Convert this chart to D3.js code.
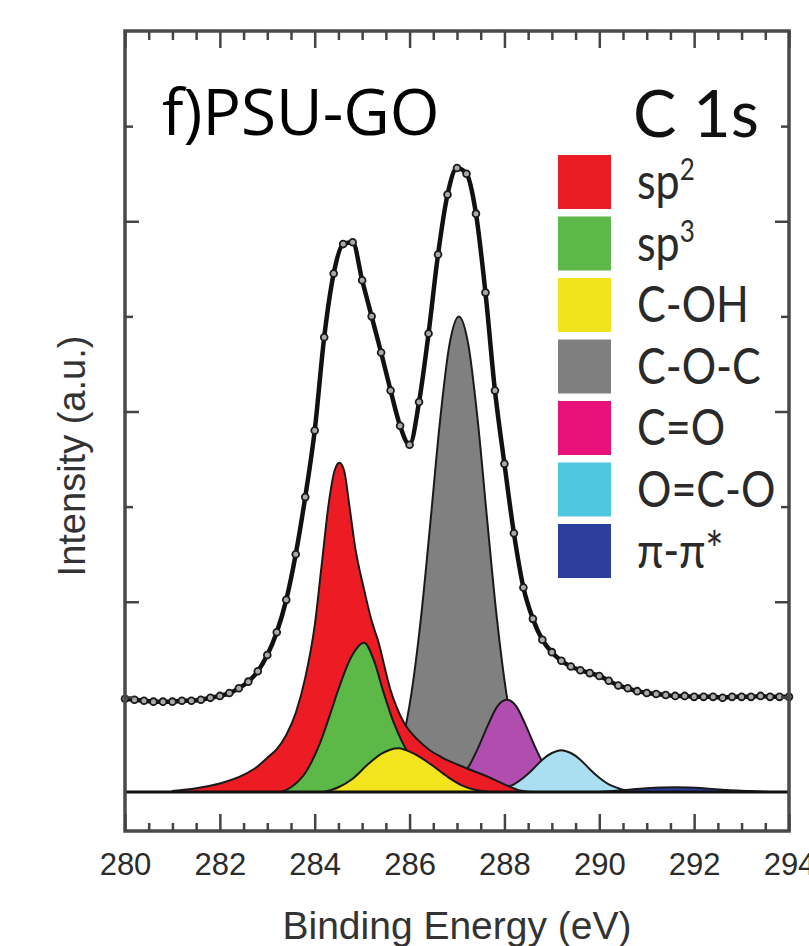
<!DOCTYPE html>
<html>
<head>
<meta charset="utf-8">
<script src="https://d3js.org/d3.v7.min.js"></script>
<style>
	body { margin: 0; background: #fff; }
	svg { display: block; }
</style>
</head>
<body>
<svg></svg>
<script>
// measured C 1s spectrum (binding energy in eV, intensity in a.u.)
var envelope = [
	[280.0, 0.98], [280.2, 0.97], [280.4, 0.96], [280.6, 0.95], [280.8, 0.95],
	[281.0, 0.95], [281.2, 0.96], [281.4, 0.96], [281.6, 0.97], [281.8, 0.99],
	[282.0, 1.01], [282.2, 1.04], [282.4, 1.09], [282.6, 1.16], [282.8, 1.27],
	[283.0, 1.44], [283.2, 1.68], [283.4, 2.02], [283.6, 2.50], [283.8, 3.10],
	[284.0, 3.80], [284.2, 4.78], [284.4, 5.45], [284.6, 5.76], [284.8, 5.78],
	[285.0, 5.38], [285.2, 5.00], [285.4, 4.62], [285.6, 4.22], [285.8, 3.85],
	[286.0, 3.65], [286.2, 4.10], [286.4, 4.82], [286.6, 5.65], [286.8, 6.28],
	[287.0, 6.56], [287.2, 6.50], [287.4, 6.08], [287.6, 5.25], [287.8, 4.22],
	[288.0, 3.45], [288.2, 2.72], [288.4, 2.15], [288.6, 1.82], [288.8, 1.60],
	[289.0, 1.47], [289.2, 1.38], [289.4, 1.32], [289.6, 1.28], [289.8, 1.25],
	[290.0, 1.22], [290.2, 1.17], [290.4, 1.12], [290.6, 1.09], [290.8, 1.06],
	[291.0, 1.04], [291.2, 1.03], [291.4, 1.02], [291.6, 1.01], [291.8, 1.01],
	[292.0, 1.00], [292.2, 1.00], [292.4, 1.00], [292.6, 0.99], [292.8, 1.00],
	[293.0, 1.00], [293.2, 1.00], [293.4, 1.01], [293.6, 1.00], [293.8, 1.00],
	[294.0, 1.00]
]

// fitted components
var sp2 = [
	[281.0, 0.01], [281.5, 0.04], [282.0, 0.09], [282.5, 0.18], [282.8, 0.27],
	[283.0, 0.36], [283.2, 0.45], [283.4, 0.60], [283.6, 0.83], [283.8, 1.20],
	[284.0, 1.75], [284.15, 2.40], [284.3, 3.05], [284.42, 3.38], [284.52, 3.46],
	[284.62, 3.38], [284.72, 3.05], [284.85, 2.58], [285.04, 2.13], [285.2, 1.80],
	[285.33, 1.60], [285.6, 1.07], [285.88, 0.73], [286.17, 0.55], [286.4, 0.45],
	[286.66, 0.37], [287.15, 0.26], [287.65, 0.16], [288.0, 0.08], [288.3, 0.02],
	[288.6, 0.0]
]
var sp3 = [
	[283.3, 0.0], [283.5, 0.05], [283.8, 0.20], [284.1, 0.50], [284.3, 0.78],
	[284.5, 1.08], [284.77, 1.42], [285.04, 1.57], [285.25, 1.38], [285.45, 1.05],
	[285.65, 0.75], [285.82, 0.55], [286.1, 0.30], [286.4, 0.12], [286.7, 0.04],
	[287.0, 0.0]
]
var cOH = [
	[284.2, 0.0], [284.5, 0.05], [284.8, 0.14], [285.1, 0.28], [285.4, 0.40],
	[285.76, 0.46], [286.1, 0.40], [286.45, 0.29], [286.8, 0.16], [287.1, 0.07],
	[287.4, 0.02], [287.7, 0.0]
]
var cOC = [
	[285.04, 0.01], [285.24, 0.03], [285.44, 0.09], [285.64, 0.23], [285.84, 0.52],
	[286.04, 1.04], [286.24, 1.83], [286.44, 2.84], [286.64, 3.89], [286.84, 4.70],
	[287.04, 5.00], [287.24, 4.70], [287.44, 3.89], [287.64, 2.84], [287.84, 1.83],
	[288.04, 1.04], [288.24, 0.52], [288.44, 0.23], [288.64, 0.09], [288.84, 0.03],
	[289.04, 0.01]
]
var cdO = [
	[286.45, 0.0], [286.65, 0.02], [286.85, 0.05], [287.05, 0.13], [287.25, 0.27],
	[287.45, 0.47], [287.65, 0.70], [287.85, 0.90], [288.05, 0.97], [288.25, 0.90],
	[288.45, 0.70], [288.65, 0.47], [288.85, 0.27], [289.05, 0.13], [289.25, 0.05],
	[289.45, 0.02], [289.65, 0.0]
]
var oco = [
	[287.8, 0.0], [288.0, 0.04], [288.2, 0.08], [288.4, 0.15], [288.6, 0.24],
	[288.8, 0.34], [289.0, 0.41], [289.2, 0.44], [289.4, 0.41], [289.6, 0.34],
	[289.8, 0.24], [290.0, 0.15], [290.2, 0.08], [290.4, 0.04], [290.6, 0.01],
	[290.8, 0.0]
]
var piPi = [
	[290.0, 0.0], [290.5, 0.02], [291.0, 0.04], [291.6, 0.05], [292.2, 0.04],
	[292.7, 0.02], [293.2, 0.01], [293.6, 0.0]
]

var legendLabels = ["sp", "sp", "C-OH", "C-O-C", "C=O", "O=C-O", "π-π*"]
var legendSups = ["2", "3", "", "", "", "", ""]
var legendColors = ["#ec1c24", "#5cb849", "#f2e41c", "#7f7f7f", "#e8117c", "#4fc7df", "#2c3f9c"]

var xMajor = [280, 282, 284, 286, 288, 290, 292, 294]
var xMinor = [280.5, 281, 281.5, 282.5, 283, 283.5, 284.5, 285, 285.5, 286.5, 287, 287.5,
	288.5, 289, 289.5, 290.5, 291, 291.5, 292.5, 293, 293.5]
var yMajor = [2, 4, 6]
var yMinor = [1, 3, 5, 7]

// drawing order: later ones sit on top
var peaks = [
	{ data: cOC, fill: "#808080" },
	{ data: cdO, fill: "#b24db0" },
	{ data: oco, fill: "#a9dff0" },
	{ data: sp2, fill: "#ed1c24" },
	{ data: sp3, fill: "#5cb947" },
	{ data: cOH, fill: "#f2e51e" },
	{ data: piPi, fill: "#2c3f9c" }
]

var width = 809
var height = 946
var svg = d3.select("svg")
	.attr("width", width)
	.attr("height", height)

var x = d3.scaleLinear()
	.domain([280, 294])
	.range([125, 789])
var y = d3.scaleLinear()
	.domain([-0.41, 8.0])
	.range([831, 31])

var area = d3.area()
	.x(function(d) { return x(d[0]) })
	.y0(y(0))
	.y1(function(d) { return y(d[1]) })
	.curve(d3.curveMonotoneX)

var line = d3.line()
	.x(function(d) { return x(d[0]) })
	.y(function(d) { return y(d[1]) })
	.curve(d3.curveMonotoneX)

svg.append("g")
	.attr("class", "peaks")
	.selectAll("path")
	.data(peaks)
	.enter()
	.append("path")
	.attr("d", function(p) { return area(p.data) })
	.attr("fill", function(p) { return p.fill })
	.attr("stroke", "#1a1a1a")
	.attr("stroke-width", 2)
	.attr("stroke-linejoin", "round")

// baseline
svg.append("line")
	.attr("x1", x(280))
	.attr("x2", x(294))
	.attr("y1", y(0))
	.attr("y2", y(0))
	.attr("stroke", "#111")
	.attr("stroke-width", 3)

svg.append("path")
	.datum(envelope)
	.attr("d", line)
	.attr("fill", "none")
	.attr("stroke", "#111")
	.attr("stroke-width", 4.5)

svg.append("g")
	.attr("class", "points")
	.selectAll("circle")
	.data(envelope)
	.enter()
	.append("circle")
	.attr("cx", function(d) { return x(d[0]) })
	.attr("cy", function(d) { return y(d[1]) })
	.attr("r", 3.4)
	.attr("fill", "#aaa")
	.attr("stroke", "#1a1a1a")
	.attr("stroke-width", 1.8)

// frame
svg.append("rect")
	.attr("x", x(280))
	.attr("y", y(8.0))
	.attr("width", x(294) - x(280))
	.attr("height", y(-0.41) - y(8.0))
	.attr("fill", "none")
	.attr("stroke", "#4a4a4a")
	.attr("stroke-width", 3.5)

function styleAxis(g) {
	g.select(".domain").remove()
	g.selectAll(".tick line")
		.attr("stroke", "#444")
		.attr("stroke-width", 2.5)
}

svg.append("g")
	.attr("transform", "translate(0," + y(-0.41) + ")")
	.call(d3.axisBottom(x).tickValues(xMajor).tickSizeInner(-17).tickSizeOuter(0).tickPadding(22).tickFormat(d3.format("d")))
	.call(styleAxis)
	.attr("font-family", "'Liberation Sans', Arial, sans-serif")
	.attr("font-size", 31)
	.selectAll("text")
	.attr("fill", "#2b2b2b")
svg.append("g")
	.attr("transform", "translate(0," + y(-0.41) + ")")
	.call(d3.axisBottom(x).tickValues(xMinor).tickSizeInner(-8).tickSizeOuter(0).tickFormat(""))
	.call(styleAxis)
svg.append("g")
	.attr("transform", "translate(0," + y(8.0) + ")")
	.call(d3.axisTop(x).tickValues(xMajor).tickSizeInner(-17).tickSizeOuter(0).tickFormat(""))
	.call(styleAxis)
svg.append("g")
	.attr("transform", "translate(0," + y(8.0) + ")")
	.call(d3.axisTop(x).tickValues(xMinor).tickSizeInner(-9).tickSizeOuter(0).tickFormat(""))
	.call(styleAxis)
svg.append("g")
	.attr("transform", "translate(" + x(280) + ",0)")
	.call(d3.axisLeft(y).tickValues(yMajor).tickSizeInner(-14).tickSizeOuter(0).tickFormat(""))
	.call(styleAxis)
svg.append("g")
	.attr("transform", "translate(" + x(280) + ",0)")
	.call(d3.axisLeft(y).tickValues(yMinor).tickSizeInner(-8).tickSizeOuter(0).tickFormat(""))
	.call(styleAxis)
svg.append("g")
	.attr("transform", "translate(" + x(294) + ",0)")
	.call(d3.axisRight(y).tickValues(yMajor).tickSizeInner(-14).tickSizeOuter(0).tickFormat(""))
	.call(styleAxis)
svg.append("g")
	.attr("transform", "translate(" + x(294) + ",0)")
	.call(d3.axisRight(y).tickValues(yMinor).tickSizeInner(-8).tickSizeOuter(0).tickFormat(""))
	.call(styleAxis)

// axis titles
svg.append("text")
	.attr("x", (x(280) + x(294)) / 2)
	.attr("y", 939)
	.attr("text-anchor", "middle")
	.attr("font-family", "'Liberation Sans', Arial, sans-serif")
	.attr("font-size", 39)
	.attr("fill", "#333")
	.text("Binding Energy (eV)")
svg.append("text")
	.attr("transform", "translate(85,456) rotate(-90)")
	.attr("text-anchor", "middle")
	.attr("font-family", "'Liberation Sans', Arial, sans-serif")
	.attr("font-size", 38)
	.attr("fill", "#333")
	.text("Intensity (a.u.)")

// panel labels
svg.append("text")
	.attr("x", 162)
	.attr("y", 135)
	.attr("font-family", "'Open Sans', sans-serif")
	.attr("font-size", 64)
	.attr("fill", "#000")
	.text("f)PSU-GO")
svg.append("text")
	.attr("x", 633)
	.attr("y", 137)
	.attr("font-family", "Lato, sans-serif")
	.attr("font-size", 65)
	.attr("fill", "#111")
	.text("C 1s")

// legend
var legend = svg.append("g")
	.attr("class", "legend")
	.selectAll("g")
	.data(legendLabels)
	.enter()
	.append("g")
	.attr("transform", function(d, i) { return "translate(558," + (155 + i * 61.5) + ")" })

legend.append("rect")
	.attr("width", 53)
	.attr("height", 54)
	.attr("fill", function(d, i) { return legendColors[i] })

var legendText = legend.append("text")
	.attr("transform", "translate(79,44) scale(1,1.17)")
	.attr("font-family", "Lato, sans-serif")
	.attr("font-size", 43)
	.attr("fill", "#2a2a2a")
legendText.append("tspan")
	.text(function(d) { return d })
legendText.append("tspan")
	.attr("dy", -16)
	.attr("font-size", 26)
	.text(function(d, i) { return legendSups[i] })
</script>
</body>
</html>
